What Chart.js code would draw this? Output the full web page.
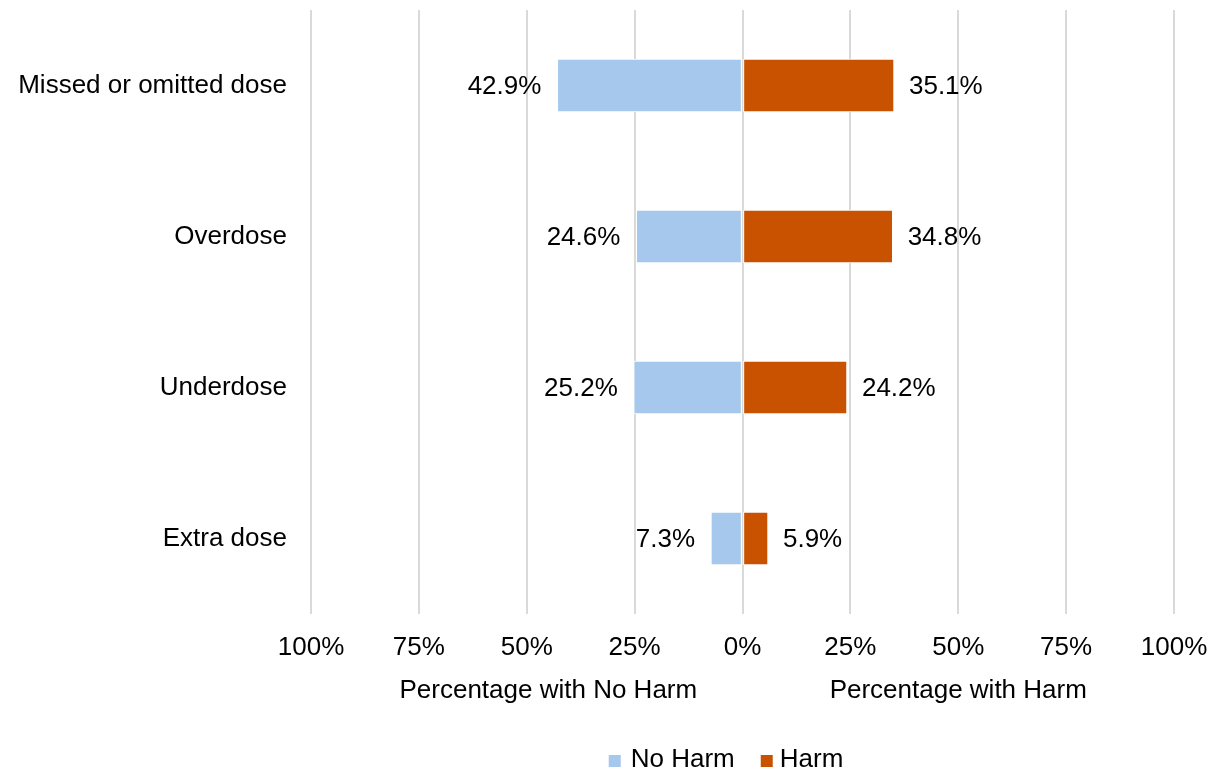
<!DOCTYPE html>
<html>
<head>
<meta charset="utf-8">
<script src="https://cdn.jsdelivr.net/npm/chart.js@4"></script>
<style>
  html, body { margin: 0; padding: 0; background: #fff; }
  #wrap { width: 1207px; height: 769px; }
</style>
</head>
<body>
<div id="wrap"><canvas id="c" width="1207" height="769"></canvas></div>
<script>
const categories = ["Missed or omitted dose", "Overdose", "Underdose", "Extra dose"];
const noHarm = [42.9, 24.6, 25.2, 7.3];
const harm = [35.1, 34.8, 24.2, 5.9];
const seriesNames = ["No Harm", "Harm"];
const axisTitles = ["Percentage with No Harm", "Percentage with Harm"];
const colors = ["#A5C8EC", "#C85200"];

const FONT = "'Liberation Sans', Arial, sans-serif";
const FS = 26;

const extras = {
  id: 'extras',
  afterDatasetsDraw(chart) {
    const ctx = chart.ctx;
    ctx.save();
    ctx.font = FS + 'px ' + FONT;
    ctx.fillStyle = '#000';
    ctx.textBaseline = 'middle';
    chart.data.datasets.forEach((ds, di) => {
      const meta = chart.getDatasetMeta(di);
      meta.data.forEach((bar, i) => {
        const v = Math.abs(ds.data[i]);
        const txt = v.toFixed(1) + '%';
        if (ds.data[i] < 0) {
          ctx.textAlign = 'right';
          ctx.fillText(txt, bar.x - 16, bar.y + 1);
        } else {
          ctx.textAlign = 'left';
          ctx.fillText(txt, bar.x + 15, bar.y + 1);
        }
      });
    });
    const xs = chart.scales.x;
    ctx.textBaseline = 'alphabetic';
    ctx.textAlign = 'center';
    ctx.fillText(axisTitles[0], xs.getPixelForValue(-45), 698);
    ctx.fillText(axisTitles[1], xs.getPixelForValue(50), 698);
    let lx = xs.getPixelForValue(-31);
    const by = 755, bs = 12, ty = 767;
    ctx.textAlign = 'left';
    seriesNames.forEach((name, i) => {
      ctx.fillStyle = colors[i];
      ctx.fillRect(lx, by, bs, bs);
      lx += bs + (i === 0 ? 10 : 7);
      ctx.fillStyle = '#000';
      ctx.fillText(name, lx, ty);
      lx += ctx.measureText(name).width + 26;
    });
    ctx.restore();
  }
};

new Chart(document.getElementById('c'), {
  type: 'bar',
  data: {
    labels: categories,
    datasets: [
      { label: seriesNames[0], data: noHarm.map(v => -v), backgroundColor: colors[0], borderColor: '#ffffff', borderWidth: 1, borderSkipped: false, barThickness: 53 },
      { label: seriesNames[1], data: harm, backgroundColor: colors[1], borderColor: '#ffffff', borderWidth: 1, borderSkipped: false, barThickness: 53 }
    ]
  },
  options: {
    indexAxis: 'y',
    responsive: false,
    animation: false,
    devicePixelRatio: 1,
    layout: { padding: { left: 0, right: 33, top: 10, bottom: 0 } },
    plugins: { legend: { display: false }, title: { display: false }, tooltip: { enabled: false } },
    scales: {
      x: {
        stacked: true,
        min: -100, max: 100,
        afterFit(s) { s.height = 155; s.paddingLeft = 0; s.paddingRight = 0; },
        grid: { color: '#D9D9D9', lineWidth: 2, drawTicks: false },
        border: { display: false },
        ticks: {
          stepSize: 25,
          padding: 18,
          maxRotation: 0,
          autoSkip: false,
          color: '#000',
          font: { family: FONT, size: FS },
          callback: v => Math.abs(v) + '%'
        }
      },
      y: {
        stacked: true,
        afterFit(s) { s.width = 311; s.paddingTop = 0; s.paddingBottom = 0; },
        grid: { display: false, drawTicks: false },
        border: { display: false },
        ticks: { padding: 24, color: '#000', font: { family: FONT, size: FS } }
      }
    }
  },
  plugins: [extras]
});
</script>
</body>
</html>
